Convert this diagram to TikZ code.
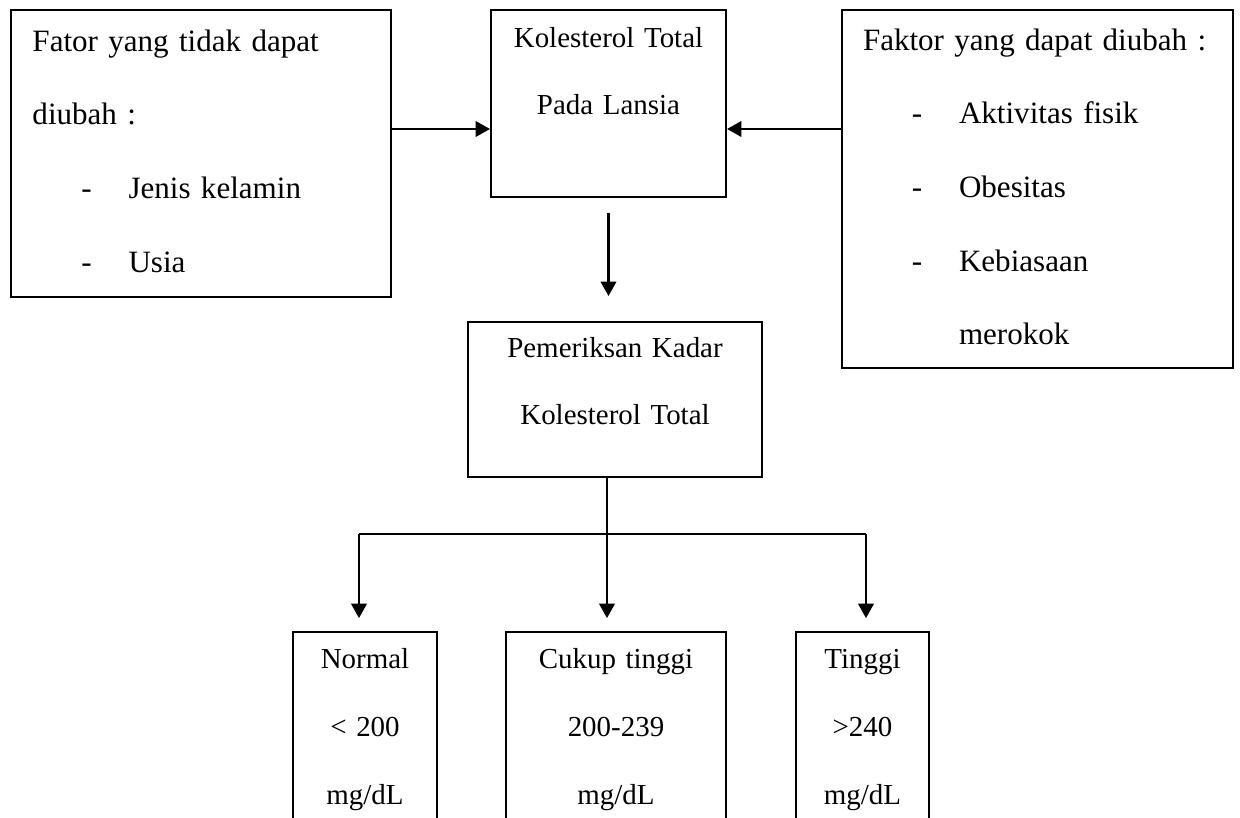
\documentclass[tikz,border=0pt]{standalone}
\usepackage{fontspec}
\setmainfont{Liberation Serif}
\usetikzlibrary{arrows.meta}

\def\px{0.38pt}
\def\dashitem#1{\hspace*{18.6pt}\makebox[17.9pt][l]{-}#1}

\begin{document}
\begin{tikzpicture}[x=\px,y=-\px,line width=0.75pt,draw=black]
    \tikzstyle{box}=[draw,rectangle,inner sep=0pt]
    \tikzstyle{arr}=[-{Triangle[length=5.5pt,width=5.9pt]},line width=0.9pt]
    \tikzstyle{big text}=[inner sep=0pt,align=left,text width=160pt,font=\fontsize{11.8pt}{28pt}\selectfont]
    \tikzstyle{small text}=[inner sep=0pt,align=center,text width=110pt,font=\fontsize{11pt}{25.8pt}\selectfont]

    \useasboundingbox (0,0) rectangle (1240,818);
    \clip (0,0) rectangle (1240,818);

    % Boxes of the upper row
    \node[box, minimum width=380*\px, minimum height=287*\px] (fixed) at (201,153.5) {};
    \node[box, minimum width=235*\px, minimum height=187*\px] (total) at (608.5,103.5) {};
    \node[box, minimum width=391*\px, minimum height=358*\px] (changeable) at (1037.5,189) {};

    % Examination box
    \node[box, minimum width=294*\px, minimum height=155*\px] (exam) at (615,399.5) {};

    % Result boxes (cut off by the lower edge)
    \node[box, anchor=north, minimum width=144*\px, minimum height=240*\px] (normal) at (365,631) {};
    \node[box, anchor=north, minimum width=220*\px, minimum height=240*\px] (border) at (616,631) {};
    \node[box, anchor=north, minimum width=133*\px, minimum height=240*\px] (high) at (862.5,631) {};

    % Texts
    \node[big text, anchor=base west] (fixed-text)
        at ([shift={(21.5,42)}]fixed.north west)
        {Fator yang tidak dapat\\diubah :\\\dashitem{Jenis kelamin}\\\dashitem{Usia}};
    \node[big text, anchor=base west] (changeable-text)
        at ([shift={(21,41)}]changeable.north west)
        {Faktor yang dapat diubah :\\\dashitem{Aktivitas fisik}\\\dashitem{Obesitas}\\\dashitem{Kebiasaan}\\\hspace*{36.5pt}merokok};
    \node[small text, anchor=base] (total-text) at ([shift={(0,38)}]total.north)
        {Kolesterol Total\\Pada Lansia};
    \node[small text, anchor=base] (exam-text) at ([shift={(0,36)}]exam.north)
        {Pemeriksan Kadar\\Kolesterol Total};
    \node[small text, anchor=base] (normal-text) at ([shift={(0,38)}]normal.north)
        {Normal\\< 200\\mg/dL};
    \node[small text, anchor=base] (border-text) at ([shift={(0,38)}]border.north)
        {Cukup tinggi\\200-239\\mg/dL};
    \node[small text, anchor=base] (high-text) at ([shift={(0,38)}]high.north)
        {Tinggi\\>240\\mg/dL};

    % Arrows into the central box
    \coordinate (rowA) at (0,129);
    \draw[arr] (fixed.east |- rowA) -- (total.west |- rowA);
    \draw[arr] (changeable.west |- rowA) -- (total.east |- rowA);
    \draw[arr, shorten <=5.7pt, shorten >=9.5pt] (total.south) -- (total.south |- exam.north);

    % Branching to the results
    \coordinate (fork) at (607,534);
    \coordinate (dropL) at (359,534);
    \coordinate (dropR) at (866,534);
    \draw[line width=0.9pt] (fork |- exam.south) -- (fork);
    \draw[line width=0.9pt] (dropL) -- (dropR);
    \draw[arr, shorten >=4.9pt] (dropL) -- (dropL |- normal.north);
    \draw[arr, shorten >=4.9pt] (fork) -- (fork |- border.north);
    \draw[arr, shorten >=4.9pt] (dropR) -- (dropR |- high.north);
\end{tikzpicture}
\end{document}
